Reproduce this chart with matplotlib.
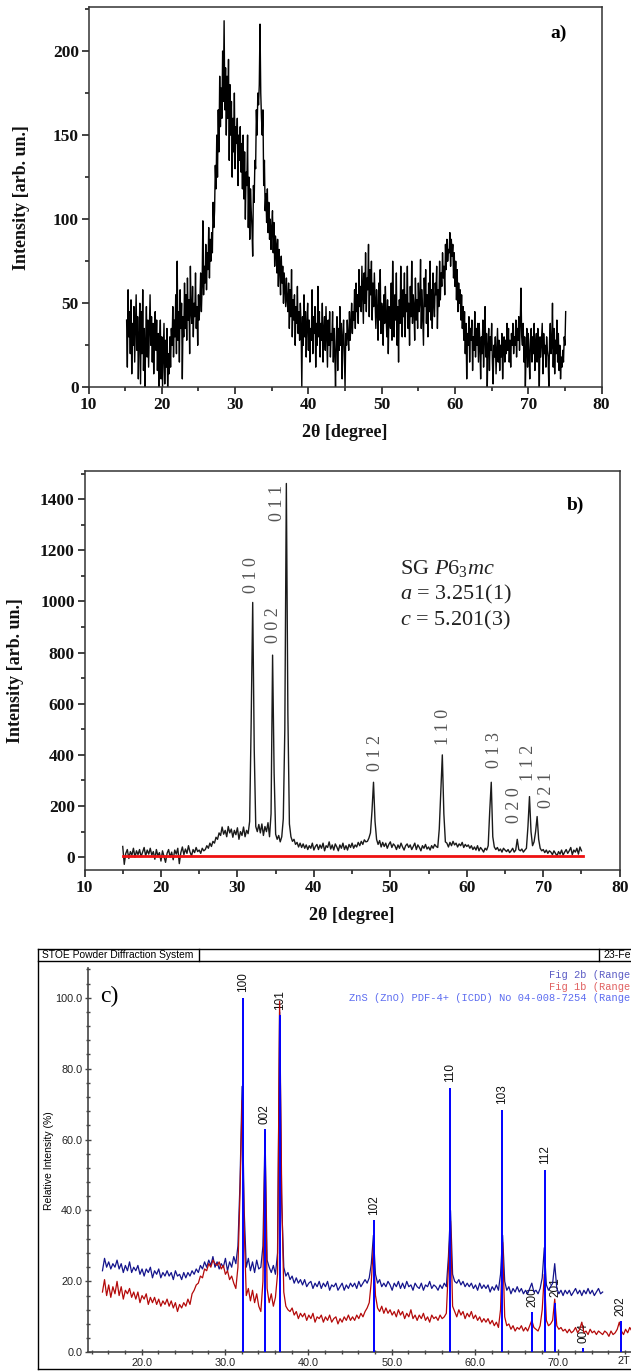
import numpy as np
import matplotlib
matplotlib.use('Agg')
import matplotlib.pyplot as plt
from matplotlib.ticker import MultipleLocator, FormatStrFormatter
from matplotlib.lines import Line2D

plt.rcParams['font.family'] = ['Liberation Serif', 'DejaVu Serif']
plt.rcParams['mathtext.fontset'] = 'custom'
plt.rcParams['mathtext.rm'] = 'Liberation Serif'
plt.rcParams['mathtext.it'] = 'Liberation Serif:italic'
plt.rcParams['mathtext.bf'] = 'Liberation Serif:bold'

# a) as-deposited film, 15.2-75.1 deg, 0.1 deg step
counts_a = [
    40, 12, 58, 30, 45, 20, 52, 8, 38, 25, 48, 15, 35, 55, 22, 42, 5, 30, 50, 2,
    45, 20, 58, 10, 35, 0, 28, 48, 18, 40, 12, 35, 55, 25, 42, 15, 38, 8, 30, 45,
    22, 40, 10, 32, 0, 25, 40, 5, 30, 0, 18, 38, 2, 28, 12, 35, 0, 20, 8, 30,
    12, 35, 25, 48, 18, 40, 30, 55, 20, 75, 28, 45, 15, 58, 35, 50, 5, 42, 30, 62,
    35, 55, 28, 65, 40, 52, 20, 72, 45, 38, 60, 30, 50, 42, 68, 35, 48, 25, 55, 40,
    52, 68, 45, 60, 99, 55, 72, 62, 85, 58, 80, 70, 95, 65, 88, 75, 92, 80, 110, 95,
    105, 132, 118, 150, 125, 165, 140, 185, 155, 178, 160, 200, 170, 218, 165, 190, 150, 185, 160, 195,
    135, 180, 150, 170, 125, 160, 140, 175, 130, 155, 145, 160, 120, 150, 135, 155, 128, 145, 118, 150,
    112, 140, 100, 128, 120, 150, 95, 125, 88, 118, 105, 95, 78, 120, 110, 135, 130, 165, 150, 175,
    168, 180, 216, 175, 160, 150, 165, 120, 135, 105, 115, 98, 118, 92, 110, 88, 100, 82, 95, 105,
    80, 98, 72, 90, 85, 68, 88, 60, 82, 70, 55, 78, 62, 72, 50, 68, 58, 48, 65, 52,
    45, 62, 35, 58, 42, 70, 30, 52, 40, 55, 25, 48, 38, 60, 32, 45, 28, 50, 38, 0,
    42, 25, 55, 30, 45, 18, 38, 50, 22, 40, 15, 35, 28, 58, 20, 42, 32, 48, 12, 38,
    25, 60, 30, 45, 18, 38, 28, 50, 15, 35, 42, 22, 48, 30, 12, 40, 25, 45, 18, 32,
    28, 45, 15, 35, 20, 0, 30, 42, 10, 35, 22, 48, 25, 38, 5, 30, 40, 20, 0, 32,
    25, 40, 30, 22, 45, 28, 38, 50, 32, 45, 40, 58, 35, 62, 45, 55, 38, 70, 48, 60,
    45, 72, 55, 38, 68, 50, 80, 45, 65, 58, 85, 42, 70, 55, 75, 40, 62, 48, 68, 52,
    35, 58, 45, 28, 62, 40, 70, 32, 50, 45, 25, 55, 38, 60, 42, 30, 52, 20, 48, 40,
    35, 62, 28, 75, 45, 30, 55, 40, 68, 25, 48, 15, 52, 38, 72, 45, 30, 58, 42, 68,
    30, 55, 45, 72, 35, 50, 25, 60, 42, 75, 38, 55, 48, 28, 65, 40, 52, 35, 62, 45,
    50, 76, 35, 58, 42, 25, 65, 48, 70, 38, 55, 30, 62, 45, 75, 40, 58, 35, 68, 50,
    42, 62, 55, 72, 35, 58, 48, 75, 52, 68, 60, 80, 65, 72, 55, 85, 70, 88, 75, 82,
    80, 92, 72, 88, 78, 85, 65, 80, 60, 75, 52, 70, 45, 62, 50, 58, 40, 55, 35, 48,
    28, 45, 20, 38, 5, 32, 25, 42, 15, 35, 28, 40, 10, 30, 22, 45, 18, 35, 25, 38,
    15, 38, 25, 5, 30, 20, 40, 12, 28, 48, 18, 32, 0, 25, 35, 10, 30, 22, 38, 15,
    2, 25, 18, 30, 8, 22, 35, 15, 28, 10, 25, 18, 32, 5, 22, 30, 15, 28, 20, 38,
    22, 35, 15, 28, 12, 32, 25, 38, 20, 30, 25, 40, 18, 35, 28, 42, 22, 38, 59, 30,
    25, 38, 15, 30, 0, 22, 35, 12, 32, 20, 5, 28, 35, 15, 30, 20, 38, 10, 25, 32,
    15, 35, 22, 0, 30, 18, 28, 38, 8, 32, 20, 25, 12, 30, 22, 18, 0, 28, 38, 20,
    25, 50, 12, 35, 8, 28, 20, 40, 15, 32, 10, 25, 5, 18, 12, 22, 15, 30, 25, 45,
]

# b) annealed film, 15.0-75.0 deg, 0.2 deg step
counts_b = [
    42, -28, 15, 30, -5, 22, 8, 35, 0, 25,
    10, 30, 2, 20, 38, 5, 28, 12, 35, 8,
    22, -8, 30, 5, 18, -15, 25, 2, -20, 15,
    30, 0, 20, -10, 28, 12, 35, -25, 18, 40,
    10, 32, 15, 45, 20, 5, 30, 18, 38, 22,
    28, 15, 35, 25, 30, 45, 35, 55, 42, 62,
    55, 78, 70, 95, 85, 118, 90, 105, 80, 120,
    95, 110, 78, 105, 88, 115, 70, 100, 85, 118,
    80, 105, 92, 140, 530, 996, 420, 120, 100, 128,
    95, 130, 85, 120, 100, 135, 80, 170, 790, 330,
    90, 70, 85, 60, 80, 150, 500, 1461, 560, 130,
    80, 62, 70, 50, 58, 40, 55, 38, 52, 35,
    48, 30, 45, 35, 55, 28, 42, 50, 30, 48,
    35, 55, 25, 45, 38, 60, 32, 48, 28, 52,
    40, 25, 48, 35, 55, 30, 45, 28, 50, 38,
    55, 35, 48, 40, 58, 45, 62, 50, 68, 60,
    62, 75, 95, 180, 293, 140, 70, 50, 65, 40,
    58, 42, 55, 35, 50, 60, 38, 52, 45, 30,
    48, 35, 55, 40, 28, 45, 52, 38, 48, 30,
    42, 55, 30, 48, 38, 25, 45, 35, 50, 32,
    40, 28, 45, 35, 50, 42, 38, 110, 260, 400,
    170, 60, 55, 40, 58, 45, 62, 48, 55, 40,
    52, 45, 58, 38, 50, 42, 48, 35, 45, 30,
    40, 28, 45, 25, 38, 30, 20, 35, 28, 45,
    180, 293, 80, 40, 30, 38, 25, 32, 20, 35,
    28, 22, 30, 18, 25, 35, 20, 28, 70, 30,
    25, 32, 20, 28, 35, 120, 237, 100, 45, 60,
    100, 159, 70, 35, 25, 30, 18, 28, 15, 25,
    20, 10, 25, 15, 5, 22, 12, 28, 8, 20,
    30, 15, 25, 38, 10, 28, 20, 35, 12, 40,
    25,
]
# refinement difference curve
diff_b_x = [15.0, 75.2]
diff_b_y = [5, 5]

hkl_b = ['0 1 0', '0 0 2', '0 1 1', '0 1 2', '1 1 0', '0 1 3', '0 2 0', '1 1 2', '0 2 1']
hkl_b_x = [31.85, 34.7, 35.3, 48.0, 57.0, 63.56, 66.3, 68.1, 70.4]
hkl_b_y = [1103, 908, 1385, 408, 508, 418, 204, 368, 262]

# c) relative intensities (%), 0.25 deg step from 15.3 deg
fig2b = [
    23.0, 26.5, 24.0, 25.5, 23.5, 25.0, 24.0, 26.0,
    23.5, 25.0, 22.5, 24.5, 23.0, 25.5, 22.5, 24.0,
    23.0, 24.5, 22.0, 23.5, 21.5, 23.5, 22.5, 24.0,
    21.0, 23.0, 22.0, 23.5, 21.0, 22.5, 21.5, 23.0,
    21.5, 22.5, 20.5, 23.0, 21.5, 22.0, 20.5, 22.5,
    21.0, 22.5, 21.5, 23.0, 22.0, 23.5, 22.5, 24.5,
    23.5, 25.5, 24.0, 26.0, 24.5, 27.0, 24.0, 25.5,
    23.5, 25.0, 24.0, 26.5, 23.0, 25.5, 24.0, 27.0,
    25.0, 30.0, 48.0, 75.0, 40.0, 24.0, 26.5, 23.0,
    25.5, 22.5, 26.0, 23.5, 24.0, 30.0, 62.0, 26.0,
    24.0, 22.5, 24.5, 22.0, 28.0, 96.0, 42.0, 24.0,
    21.5, 22.5, 20.5, 21.5, 19.5, 21.0, 19.5, 20.5,
    19.0, 20.5, 18.5, 19.5, 20.0, 18.0, 19.5, 18.5,
    20.0, 18.0, 19.5, 18.5, 20.0, 17.5, 19.0, 18.5,
    19.5, 17.5, 18.5, 19.5, 17.5, 19.0, 18.0, 19.5,
    18.5, 19.5, 18.0, 20.0, 18.5, 19.5, 20.5, 19.5,
    21.0, 25.0, 33.0, 22.0, 19.5, 20.5, 18.5, 19.5,
    18.5, 20.0, 19.0, 17.5, 19.5, 18.5, 20.0, 18.0,
    19.5, 18.0, 20.0, 18.5, 19.0, 17.5, 19.5, 18.5,
    18.0, 19.5, 17.5, 19.0, 18.5, 20.0, 18.0, 19.0,
    18.5, 17.5, 19.0, 18.0, 19.5, 18.5, 27.0, 40.0,
    22.0, 20.0, 19.5, 20.5, 19.0, 20.0, 18.5, 19.5,
    18.5, 19.5, 18.0, 19.0, 17.5, 19.5, 18.0, 19.0,
    18.0, 19.0, 17.0, 18.5, 17.5, 19.0, 17.5, 22.0,
    33.0, 20.0, 17.5, 18.5, 16.5, 18.0, 17.0, 18.5,
    17.0, 18.0, 16.5, 17.5, 16.5, 18.0, 19.5, 17.0,
    17.5, 16.5, 18.0, 21.0, 29.5, 19.0, 17.5, 18.5,
    19.5, 25.0, 18.0, 16.5, 17.5, 16.0, 17.5, 16.5,
    17.5, 16.0, 17.0, 18.0, 16.5, 17.5, 16.0, 17.5,
    16.5, 18.0, 16.5, 17.5, 16.0, 17.0, 18.0, 16.5,
    17.0,
]
fig1b = [
    17.0, 20.5, 16.0, 19.0, 15.5, 18.5, 16.5, 20.0,
    16.0, 18.5, 15.0, 17.5, 16.5, 18.0, 15.5, 17.0,
    15.0, 17.0, 14.0, 16.0, 15.0, 16.5, 13.5, 15.5,
    14.0, 15.5, 13.5, 15.0, 13.0, 14.5, 13.5, 15.0,
    13.0, 14.5, 12.5, 14.0, 11.5, 13.5, 12.5, 14.0,
    13.0, 15.0, 13.5, 16.5, 17.5, 19.0, 19.5, 21.5,
    21.0, 23.5, 23.0, 25.0, 24.0, 26.0, 25.0, 24.5,
    25.5, 23.5, 24.5, 22.0, 23.0, 20.5, 21.5, 19.5,
    18.0, 24.0, 45.0, 71.0, 35.0, 16.0, 18.0, 14.5,
    17.5, 14.0, 16.5, 13.0, 11.5, 20.0, 60.0, 18.0,
    14.0, 16.5, 13.0, 15.5, 22.0, 99.0, 45.0, 17.0,
    13.0, 12.0, 11.5, 12.5, 10.5, 11.5, 9.5, 11.0,
    10.0, 11.0, 9.0, 10.5, 9.5, 11.0, 8.5, 10.0,
    9.5, 10.5, 8.5, 10.0, 9.0, 10.5, 8.5, 9.5,
    10.0, 8.0, 9.5, 8.5, 10.0, 9.0, 10.5, 9.0,
    10.0, 9.0, 10.5, 9.5, 11.0, 10.0, 11.5, 12.5,
    14.0, 20.0, 30.0, 16.0, 12.5, 11.5, 13.0, 11.0,
    12.5, 11.0, 12.0, 10.5, 11.5, 10.0, 12.0, 10.5,
    11.5, 9.5, 11.0, 10.0, 12.0, 9.5, 10.5, 9.0,
    10.5, 9.5, 11.0, 9.0, 10.0, 8.5, 10.5, 9.5,
    10.0, 9.0, 10.5, 9.5, 10.0, 11.0, 24.0, 37.0,
    13.0, 11.5, 10.0, 12.0, 10.5, 11.5, 9.5, 11.0,
    10.0, 11.5, 9.5, 10.5, 9.0, 10.0, 8.5, 9.5,
    8.5, 9.5, 8.0, 9.0, 7.5, 8.5, 7.0, 12.0,
    31.0, 10.0, 7.5, 8.0, 6.5, 7.5, 6.0, 7.0,
    6.5, 7.5, 6.0, 7.0, 6.0, 7.5, 9.0, 7.0,
    6.5, 6.0, 7.5, 12.0, 22.0, 9.0, 7.5, 8.0,
    9.0, 15.0, 7.5, 6.5, 7.0, 6.0, 6.5, 5.5,
    6.5, 5.5, 6.0, 7.0, 5.5, 6.5, 8.5, 5.5,
    6.0, 5.0, 6.5, 5.5, 6.0, 5.0, 6.0, 5.5,
    5.0, 6.0, 5.5, 4.5, 6.0, 5.0, 5.5, 6.5,
    8.5, 6.0, 5.0, 6.5, 5.5, 7.0, 6.0, 6.5,
]

# ZnO reference lines, PDF 04-008-7254
pdf_hkl = ['100', '002', '101', '102', '110', '103', '200', '112', '201', '004', '202']
pdf_pos = [32.16, 34.76, 36.64, 47.88, 57.0, 63.23, 66.87, 68.39, 69.58, 72.96, 77.45]
pdf_int = [100.0, 63.0, 95.0, 37.3, 74.6, 68.4, 11.3, 51.4, 14.0, 1.1, 8.8]

tt_a = np.linspace(15.2, 75.1, len(counts_a))
tt_b = np.linspace(15.0, 75.0, len(counts_b))
tt_2b = np.linspace(15.3, 75.3, len(fig2b))
tt_1b = np.linspace(15.3, 79.05, len(fig1b))

W, H = 631, 1371
fig = plt.figure(figsize=(W / 100, H / 100), dpi=100)


def rect(left, top, right, bottom):
    # pixel box -> figure fraction
    return [left / W, 1 - bottom / H, (right - left) / W, (bottom - top) / H]


def fig_line(x0, y0, x1, y1, **kw):
    fig.add_artist(Line2D([x0 / W, x1 / W], [1 - y0 / H, 1 - y1 / H],
                          transform=fig.transFigure, **kw))


def style_serif(ax, xmaj, xmin, ymaj, ymin):
    ax.xaxis.set_major_locator(MultipleLocator(xmaj))
    ax.xaxis.set_minor_locator(MultipleLocator(xmin))
    ax.yaxis.set_major_locator(MultipleLocator(ymaj))
    ax.yaxis.set_minor_locator(MultipleLocator(ymin))
    ax.tick_params(which='both', direction='out', width=1.2, color='#222222',
                   labelsize=12.5, pad=2)
    ax.tick_params(which='major', length=5)
    ax.tick_params(which='minor', length=3)
    for lab in ax.get_xticklabels() + ax.get_yticklabels():
        lab.set_fontweight('bold')
        lab.set_color('#111111')
    for sp in ax.spines.values():
        sp.set_linewidth(1.1)
        sp.set_color('#333333')


label_kw = dict(fontsize=13, fontweight='bold', color='#111111')

# ---------------- a)
ax_a = fig.add_axes(rect(88.5, 7.3, 601.6, 387.3))
ax_a.plot(tt_a, counts_a, color='black', lw=1.0)
ax_a.set_xlim(10, 80)
ax_a.set_ylim(0, 226)
style_serif(ax_a, 10, 5, 50, 25)
ax_a.set_xlabel('2\u03b8 [degree]', **label_kw)
ax_a.set_ylabel('Intensity [arb. un.]', **label_kw)
ax_a.xaxis.set_label_coords(0.5, -0.12)
ax_a.xaxis.label.set_va('center')
ax_a.yaxis.set_label_coords(-0.13, 0.5)
ax_a.yaxis.label.set_va('center')
ax_a.text(0.917, 0.932, 'a)', transform=ax_a.transAxes, ha='center', va='center',
          fontsize=14, fontweight='bold')

# ---------------- b)
ax_b = fig.add_axes(rect(84.5, 470.7, 619.7, 870.0))
ax_b.plot(diff_b_x, diff_b_y, color='#ee1111', lw=2.0, zorder=3)
ax_b.plot(tt_b, counts_b, color='#1a1a1a', lw=1.0, zorder=2)
ax_b.set_xlim(10, 80)
ax_b.set_ylim(-50, 1511)
style_serif(ax_b, 10, 5, 200, 100)
ax_b.set_xlabel('2\u03b8 [degree]', **label_kw)
ax_b.set_ylabel('Intensity [arb. un.]', **label_kw)
ax_b.xaxis.set_label_coords(0.5, -0.115)
ax_b.xaxis.label.set_va('center')
ax_b.yaxis.set_label_coords(-0.128, 0.5)
ax_b.yaxis.label.set_va('center')
ax_b.text(0.917, 0.914, 'b)', transform=ax_b.transAxes, ha='center', va='center',
          fontsize=14, fontweight='bold')
for lab, x, y in zip(hkl_b, hkl_b_x, hkl_b_y):
    ax_b.text(x, y, lab, rotation=90, ha='center', va='center', fontsize=13,
              color='#555555')
cell_kw = dict(transform=ax_b.transAxes, ha='left', va='center', fontsize=16,
               color='#222222')
ax_b.text(0.5895, 0.756, r'SG $\mathit{P6_3mc}$', **cell_kw)
ax_b.text(0.5895, 0.689, r'$a$ = 3.251(1)', **cell_kw)
ax_b.text(0.5895, 0.626, r'$c$ = 5.201(3)', **cell_kw)

# ---------------- c) STOE printout
sans = ['Liberation Sans', 'DejaVu Sans']
mono = ['Liberation Mono', 'DejaVu Sans Mono']
frame_kw = dict(color='black', lw=1.0)
fig_line(37.7, 948.5, 640, 948.5, **frame_kw)
fig_line(37.7, 961.0, 640, 961.0, **frame_kw)
fig_line(37.7, 1369.0, 640, 1369.0, **frame_kw)
fig_line(37.7, 948.5, 37.7, 1369.0, **frame_kw)
fig_line(199.0, 948.5, 199.0, 961.0, **frame_kw)
fig_line(599.3, 948.5, 599.3, 961.0, **frame_kw)
fig.text(42.5 / W, 1 - 955.0 / H, 'STOE Powder Diffraction System', family=sans,
         fontsize=7.4, ha='left', va='center')
fig.text(604 / W, 1 - 955.0 / H, '23-Fe', family=sans, fontsize=7.6,
         ha='left', va='center')

ax_c = fig.add_axes(rect(87.7, 968.3, 631, 1352.3))
ax_c.plot(tt_2b, fig2b, color='#14148c', lw=0.9, zorder=3)
ax_c.plot(tt_1b, fig1b, color='#b40a0a', lw=0.9, zorder=4)
ax_c.vlines(pdf_pos, 0, pdf_int, color='#0000ff', lw=1.4, zorder=5)
for lab, x, y in zip(pdf_hkl, pdf_pos, pdf_int):
    ax_c.text(x, y + 4.3, lab, rotation=90, ha='center', va='center',
              family=sans, fontsize=8.5, color='#111111', zorder=2)
ax_c.set_xlim(13.53, 78.7)
ax_c.set_ylim(0, 108.3)
ax_c.spines['top'].set_visible(False)
ax_c.spines['right'].set_visible(False)
for sp in ('left', 'bottom'):
    ax_c.spines[sp].set_color('#444444')
    ax_c.spines[sp].set_linewidth(1.2)
ax_c.xaxis.set_major_locator(MultipleLocator(10))
ax_c.xaxis.set_minor_locator(MultipleLocator(2))
ax_c.yaxis.set_major_locator(MultipleLocator(20))
ax_c.yaxis.set_minor_locator(MultipleLocator(4))
ax_c.xaxis.set_major_formatter(FormatStrFormatter('%.1f'))
ax_c.yaxis.set_major_formatter(FormatStrFormatter('%.1f'))
ax_c.tick_params(which='both', direction='inout', color='#444444', width=1.0,
                 labelsize=7.8, labelcolor='#222222', pad=2)
ax_c.tick_params(which='major', length=4)
ax_c.tick_params(which='minor', length=2.5)
for lab in ax_c.get_xticklabels() + ax_c.get_yticklabels():
    lab.set_family(sans)
ax_c.set_ylabel('Relative Intensity (%)', family=sans, fontsize=7.5)
ax_c.yaxis.set_label_coords(-0.072, 0.5)
ax_c.yaxis.label.set_va('center')
ax_c.text(617 / W, 1 - 1360.7 / H, '2T', transform=fig.transFigure,
          family=sans, fontsize=7.8, ha='left', va='center', color='#222222')
ax_c.text(16.08, 100.4, 'c)', ha='center', va='center', fontsize=17)

legend_c = [('Fig 2b (Range', '#5b5bc4', 975.0),
            ('Fig 1b (Range', '#e06060', 986.7),
            ('ZnS (ZnO) PDF-4+ (ICDD) No 04-008-7254 (Range', '#5c6cf0', 997.7)]
for txt, col, ypx in legend_c:
    fig.text(630.5 / W, 1 - ypx / H, txt, family=mono, fontsize=7.5, color=col,
             ha='right', va='center')

fig.savefig('out.png', dpi=100)
